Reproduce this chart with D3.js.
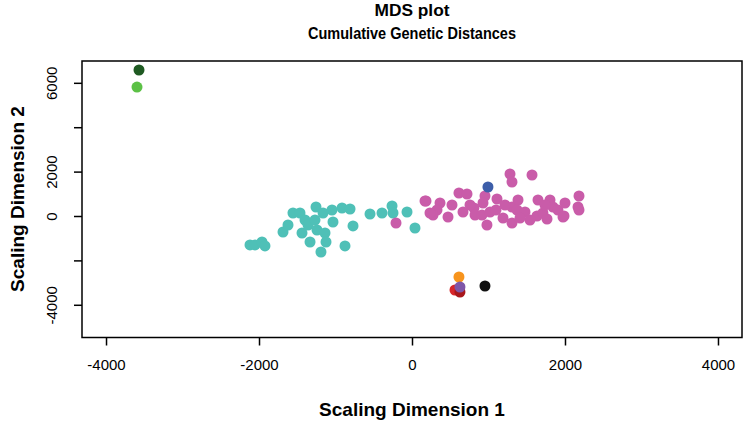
<!DOCTYPE html>
<html>
<head>
<meta charset="utf-8">
<script src="https://cdn.jsdelivr.net/npm/d3@7"></script>
<style>
  body { margin: 0; background: #fff; }
  text { font-family: "Liberation Sans", Arial, sans-serif; }
</style>
</head>
<body>
<svg id="chart" width="745" height="423"></svg>
<script>
// MDS coordinates (dimension 1, dimension 2)
var tealDim1 = [-2118, -2052, -1961, -1922, -1686, -1621, -1556, -1464, -1438, -1399, -1359, -1333,
                -1255, -1268, -1242, -1137, -1124, -1190, -1163, -1046, -1033, -915, -810, -771,
                -876, -549, -392, -261, -248, -65, 39];
var tealDim2 = [-1306, -1306, -1171, -1351, -721, -405, 135, 135, -766, -180, -405, -1171,
                405, -180, -631, -766, -1171, -1622, 135, 270, -270, 360, 315, -450,
                -1351, 90, 135, 450, 135, 180, -541];

var pinkDim1 = [1281, 1307, 1569, 183, 614, 719, 954, 928, 1111, 366, 327, 275, 471, 667, 810,
                824, 915, 980, 1190, 1307, 1307, 1386, 1373, 1647, 1634, 1712, 1765, 1804, 1843,
                1908, 2000, 1974, 2183, 2170, 2183, 1987, -209, 170, 235,
                523, 1020, 1216, 1477, 1542, 1739, 758, 1412, 1098];
var pinkDim2 = [1892, 1532, 1847, 676, 1036, 991, 901, 586, 766, 586, 270, 45, -45, 180, 360,
                45, 45, -405, -90, -315, 405, 721, 270, 721, 0, 135, -135, 721, 405,
                270, 586, -45, 901, 405, 270, 0, -315, 676, 135,
                495, 180, 495, 180, -180, 495, 495, -90, 270];

// single samples
var otherNames = ["darkgreen", "lightgreen", "blue", "orange", "red1", "red2", "purple", "black"];
var otherDim1 = [-3569, -3595, 993, 614, 562, 627, 627, 954];
var otherDim2 = [6577, 5811, 1306, -2748, -3334, -3424, -3199, -3154];
var otherColors = ["#1f5a22", "#5cc146", "#3d5ea9", "#f7941d", "#d7262a", "#a8171b", "#7e56a8", "#111111"];

var xTicks = [-4000, -2000, 0, 2000, 4000];
var yTicks = [-4000, -2000, 0, 2000, 4000, 6000];
var yTickLabels = {"-4000": "-4000", "0": "0", "2000": "2000", "6000": "6000"};

var svg = d3.select("#chart");
var plotLeft = 82, plotRight = 742, plotTop = 61, plotBottom = 337.5;

var xScale = d3.scaleLinear().domain([-4314, 4314]).range([plotLeft, plotRight]);
var yScale = d3.scaleLinear().domain([-5474, 6983]).range([plotBottom, plotTop]);

// titles (narrow bold face like the original)
svg.append("text").attr("x", 412).attr("y", 16).attr("text-anchor", "middle")
    .attr("font-weight", "bold").attr("font-size", 17)
    .attr("textLength", 75).attr("lengthAdjust", "spacingAndGlyphs").text("MDS plot");
svg.append("text").attr("x", 412).attr("y", 39).attr("text-anchor", "middle")
    .attr("font-weight", "bold").attr("font-size", 17)
    .attr("textLength", 208).attr("lengthAdjust", "spacingAndGlyphs").text("Cumulative Genetic Distances");

// axes
var xAxis = svg.append("g")
    .attr("transform", "translate(0," + plotBottom + ")")
    .call(d3.axisBottom(xScale).tickValues(xTicks).tickSize(8).tickPadding(14)
        .tickFormat(function(d) { return d; }));
xAxis.select(".domain").remove();
xAxis.selectAll("line").attr("stroke-width", 1.5);
xAxis.selectAll("text").attr("font-size", 15).attr("fill", "#000")
    .attr("font-family", "Liberation Sans, Arial, sans-serif");

var yAxis = svg.append("g")
    .attr("transform", "translate(" + plotLeft + ",0)")
    .call(d3.axisLeft(yScale).tickValues(yTicks).tickSize(8)
        .tickFormat(function(d) { return yTickLabels[d] || ""; }));
yAxis.select(".domain").remove();
yAxis.selectAll("line").attr("stroke-width", 1.5);
yAxis.selectAll("text")
    .attr("font-size", 15).attr("fill", "#000")
    .attr("font-family", "Liberation Sans, Arial, sans-serif")
    .attr("text-anchor", "middle")
    .attr("x", 0).attr("dy", 0)
    .attr("transform", "translate(-30,0) rotate(-90)")
    .attr("y", 5);

// box
svg.append("rect").attr("x", plotLeft).attr("y", plotTop)
    .attr("width", plotRight - plotLeft).attr("height", plotBottom - plotTop)
    .attr("fill", "none").attr("stroke", "#000").attr("stroke-width", 1.5);

// axis labels
svg.append("text").attr("x", 412).attr("y", 416).attr("text-anchor", "middle")
    .attr("font-weight", "bold").attr("font-size", 19).text("Scaling Dimension 1");
svg.append("text").attr("transform", "translate(24,199) rotate(-90)")
    .attr("text-anchor", "middle").attr("font-weight", "bold").attr("font-size", 19)
    .text("Scaling Dimension 2");

// points
function drawGroup(d1, d2, color) {
    svg.append("g").selectAll("circle")
        .data(d3.range(d1.length))
        .enter().append("circle")
        .attr("cx", function(i) { return xScale(d1[i]); })
        .attr("cy", function(i) { return yScale(d2[i]); })
        .attr("r", 5.5)
        .attr("fill", color);
}
drawGroup(tealDim1, tealDim2, "#4fc0b7");
drawGroup(pinkDim1, pinkDim2, "#c95ca9");
otherNames.forEach(function(n, i) {
    drawGroup([otherDim1[i]], [otherDim2[i]], otherColors[i]);
});
</script>
</body>
</html>
